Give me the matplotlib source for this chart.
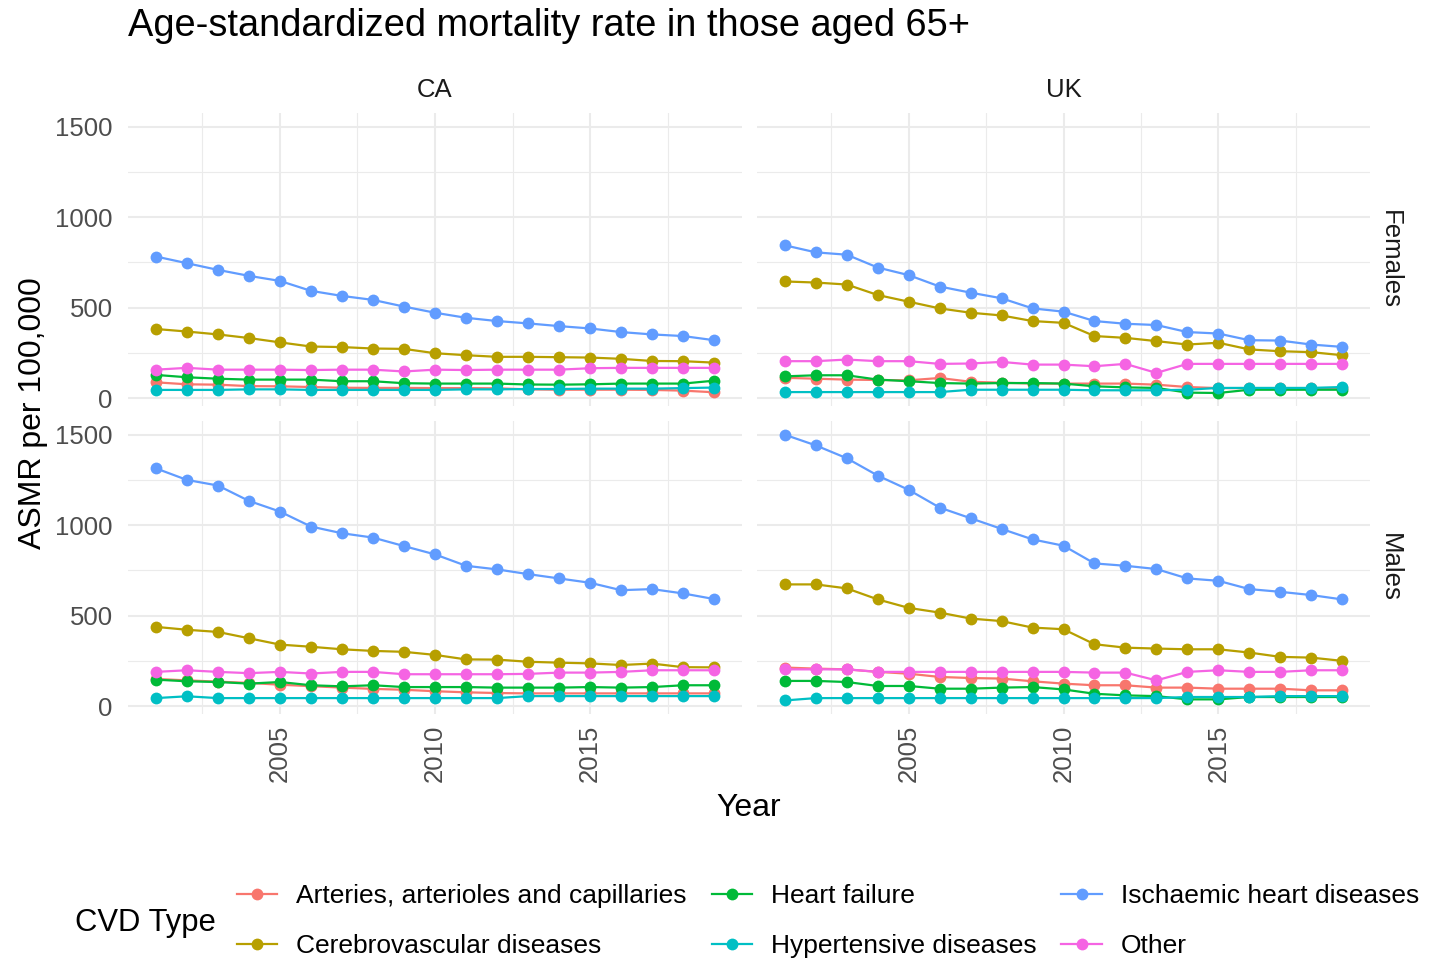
import matplotlib.pyplot as plt

plt.rcParams['font.family'] = ['Liberation Sans', 'DejaVu Sans']

# DATA
# ============================================================================
years = list(range(2001, 2020))
cvd_types = ['Arteries, arterioles and capillaries', 'Cerebrovascular diseases',
             'Heart failure', 'Hypertensive diseases',
             'Ischaemic heart diseases', 'Other']
colors = ['#F8766D', '#B79F00', '#00BA38', '#00BFC4', '#619CFF', '#F564E3']
countries = ['CA', 'UK']
sexes = ['Females', 'Males']

# CA females
art_ca_f = [87, 76, 74, 66, 65, 61, 57, 56, 56, 55, 55, 54, 48, 46, 46, 46, 45, 41, 32]
cere_ca_f = [382, 368, 352, 332, 308, 285, 282, 274, 272, 248, 237, 228, 228, 226, 224, 217, 205, 204, 196]
hf_ca_f = [128, 115, 107, 102, 102, 102, 93, 93, 82, 80, 80, 80, 75, 74, 76, 80, 80, 80, 96]
hyp_ca_f = [45, 45, 45, 48, 48, 45, 45, 45, 45, 45, 48, 48, 50, 50, 52, 52, 52, 55, 58]
isch_ca_f = [783, 746, 709, 676, 648, 593, 565, 543, 506, 472, 444, 426, 413, 398, 385, 365, 352, 343, 320]
other_ca_f = [157, 167, 157, 157, 157, 155, 157, 157, 147, 157, 155, 157, 157, 157, 165, 167, 167, 167, 167]

# UK females
art_uk_f = [112, 107, 102, 100, 98, 111, 90, 85, 80, 80, 80, 80, 74, 61, 55, 55, 55, 55, 55]
cere_uk_f = [645, 639, 628, 570, 533, 496, 472, 457, 426, 416, 343, 333, 315, 296, 306, 269, 259, 254, 237]
hf_uk_f = [120, 126, 126, 102, 93, 83, 80, 83, 83, 80, 65, 59, 56, 30, 28, 46, 46, 46, 46]
hyp_uk_f = [33, 33, 33, 33, 33, 33, 46, 46, 46, 46, 43, 43, 43, 46, 56, 56, 56, 56, 61]
isch_uk_f = [845, 806, 793, 722, 680, 617, 583, 552, 496, 478, 426, 411, 404, 365, 357, 320, 318, 296, 283]
other_uk_f = [204, 204, 213, 204, 204, 189, 191, 200, 185, 185, 176, 189, 139, 189, 189, 189, 189, 189, 189]

# CA males
art_ca_m = [150, 142, 135, 128, 118, 110, 102, 95, 90, 82, 76, 72, 70, 70, 70, 70, 70, 70, 70]
cere_ca_m = [438, 422, 410, 375, 340, 328, 314, 305, 300, 283, 258, 257, 245, 240, 236, 227, 235, 215, 214]
hf_ca_m = [146, 137, 133, 124, 133, 115, 109, 115, 105, 105, 105, 102, 102, 102, 105, 102, 105, 115, 115]
hyp_ca_m = [44, 54, 44, 44, 44, 44, 44, 44, 44, 44, 44, 44, 55, 55, 55, 55, 55, 55, 55]
isch_ca_m = [1315, 1251, 1220, 1135, 1076, 993, 956, 932, 885, 839, 776, 756, 730, 706, 682, 641, 647, 623, 592]
other_ca_m = [189, 198, 189, 182, 189, 180, 189, 189, 176, 176, 176, 176, 178, 185, 185, 189, 198, 198, 198]

# UK males
art_uk_m = [213, 207, 203, 189, 179, 161, 155, 152, 137, 124, 115, 115, 102, 102, 96, 96, 96, 87, 87]
cere_uk_m = [673, 673, 651, 590, 543, 517, 484, 470, 434, 425, 342, 323, 318, 314, 314, 296, 272, 268, 250]
hf_uk_m = [139, 139, 133, 111, 111, 96, 96, 102, 105, 92, 68, 59, 55, 37, 37, 50, 50, 50, 50]
hyp_uk_m = [31, 44, 44, 44, 44, 44, 44, 44, 44, 44, 44, 44, 44, 50, 50, 50, 55, 55, 55]
isch_uk_m = [1501, 1442, 1371, 1275, 1196, 1098, 1039, 980, 922, 887, 789, 776, 758, 706, 693, 647, 632, 614, 590]
other_uk_m = [203, 203, 203, 189, 189, 189, 189, 189, 189, 189, 185, 185, 142, 189, 198, 189, 189, 198, 198]
# ============================================================================

panel_data = {
    ('CA', 'Females'): [art_ca_f, cere_ca_f, hf_ca_f, hyp_ca_f, isch_ca_f, other_ca_f],
    ('UK', 'Females'): [art_uk_f, cere_uk_f, hf_uk_f, hyp_uk_f, isch_uk_f, other_uk_f],
    ('CA', 'Males'): [art_ca_m, cere_ca_m, hf_ca_m, hyp_ca_m, isch_ca_m, other_ca_m],
    ('UK', 'Males'): [art_uk_m, cere_uk_m, hf_uk_m, hyp_uk_m, isch_uk_m, other_uk_m],
}

W, H = 1450, 959
fig = plt.figure(figsize=(W / 100, H / 100), dpi=100)

col_x = {'CA': (128, 742), 'UK': (757, 1370)}
row_y = {'Females': (113, 406), 'Males': (421, 714)}

grid_c = '#EBEBEB'
tick_c = '#4D4D4D'
FS = 18.5

for country in countries:
    for sex in sexes:
        x0, x1 = col_x[country]
        y0, y1 = row_y[sex]
        ax = fig.add_axes([x0 / W, 1 - y1 / H, (x1 - x0) / W, (y1 - y0) / H])
        ax.set_xlim(2000.1, 2019.9)
        ax.set_ylim(-44, 1577)
        ax.set_xticks([2005, 2010, 2015])
        ax.set_xticks([2002.5, 2007.5, 2012.5, 2017.5], minor=True)
        ax.set_yticks([0, 500, 1000, 1500])
        ax.set_yticks([250, 750, 1250], minor=True)
        ax.grid(which='major', color=grid_c, lw=1.5, zorder=0)
        ax.grid(which='minor', color=grid_c, lw=0.8, zorder=0)
        ax.set_axisbelow(True)
        for s in ax.spines.values():
            s.set_visible(False)
        ax.tick_params(which='both', length=0, colors=tick_c, labelsize=FS)
        ax.tick_params(axis='y', pad=11)
        ax.tick_params(axis='x', pad=8, labelrotation=90)
        if country != 'CA':
            ax.set_yticklabels([])
        if sex != 'Males':
            ax.set_xticklabels([])

        for vals, name, c in zip(panel_data[(country, sex)], cvd_types, colors):
            ax.plot(years, vals, color=c, lw=1.6, marker='o', ms=8.5,
                    markeredgewidth=0, label=name)

        if sex == 'Females':
            fig.text((x0 + x1) / 2 / W, 1 - 90 / H, country, ha='center',
                     va='center', fontsize=FS, color='#1A1A1A')
        if country == 'UK':
            fig.text(1390 / W, 1 - (y0 + y1) / 2 / H, sex, ha='center',
                     va='center', rotation=-90, fontsize=FS, color='#1A1A1A')
        if country == 'CA' and sex == 'Females':
            handles, labels = ax.get_legend_handles_labels()

# TITLES
fig.text(128 / W, 1 - 26 / H, 'Age-standardized mortality rate in those aged 65+',
         ha='left', va='center', fontsize=27.4)
fig.text(749 / W, 1 - 808 / H, 'Year', ha='center', va='center', fontsize=23)
fig.text(33 / W, 1 - 413 / H, 'ASMR per 100,000', ha='center', va='center',
         rotation=90, fontsize=23)

# LEGEND
fig.text(75 / W, 1 - 923 / H, 'CVD Type', ha='left', va='center', fontsize=22.3)
fig.legend(handles, labels, ncol=3, loc='upper left',
           bbox_to_anchor=(237 / W, 1 - 884 / H), frameon=False, fontsize=19,
           handlelength=1.52, handletextpad=0.72, columnspacing=0.95,
           labelspacing=1.0, borderpad=0, borderaxespad=0, numpoints=1)

fig.savefig('out.png', dpi=100)
